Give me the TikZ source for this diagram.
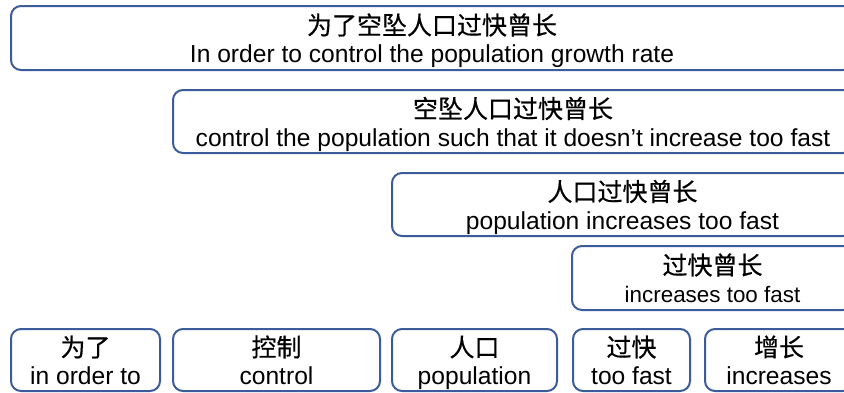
\documentclass[tikz,border=0pt]{standalone}
\usepackage{fontspec}
\setmainfont{Liberation Sans}
\newfontfamily\cjk[FakeBold=0.5]{Noto Sans CJK SC}
\definecolor{bordc}{HTML}{3B5B9B}
\tikzset{
  box/.style={draw=bordc, line width=2pt, rounded corners=10pt, inner sep=0pt},
  zh/.style={anchor=base, inner sep=0pt, text=black, font=\cjk\fontsize{25}{28}\selectfont},
  en/.style={anchor=base, inner sep=0pt, text=black, font=\fontsize{24.6}{28}\selectfont},
  ensmall/.style={en, font=\fontsize{22.4}{26}\selectfont},
}
\begin{document}
\begin{tikzpicture}[x=1pt,y=-1pt]
\useasboundingbox (0,0) rectangle (844,392);
\clip (0,0) rectangle (844,392);
% boxes
\node[box, minimum width=842pt, minimum height=64pt] (b1) at (432,38) {};
\node[box, minimum width=680pt, minimum height=63pt] (b2) at (513,121.5) {};
\node[box, minimum width=461pt, minimum height=63pt] (b3) at (622.5,204.5) {};
\node[box, minimum width=281pt, minimum height=64pt] (b4) at (712.5,278) {};
\node[box, minimum width=149pt, minimum height=62pt] (w1) at (85.5,360) {};
\node[box, minimum width=207pt, minimum height=62pt] (w2) at (276.5,360) {};
\node[box, minimum width=165pt, minimum height=62pt] (w3) at (474.5,360) {};
\node[box, minimum width=117pt, minimum height=62pt] (w4) at (631.5,360) {};
\node[box, minimum width=148pt, minimum height=62pt] (w5) at (779,360) {};
% texts
\node[zh] (b1z) at ([yshift=3.5pt]b1.center) {为了空坠人口过快曾长};
\node[en] (b1e) at ([yshift=-24.5pt]b1.center) {In order to control the population growth rate};
\node[zh] (b2z) at ([yshift=3.5pt]b2.center) {空坠人口过快曾长};
\node[en] (b2e) at ([yshift=-24.5pt]b2.center) {control the population such that it doesn’t increase too fast};
\node[zh] (b3z) at ([yshift=3.5pt]b3.center) {人口过快曾长};
\node[en] (b3e) at ([yshift=-24.5pt]b3.center) {population increases too fast};
\node[zh] (b4z) at ([yshift=3.5pt]b4.center) {过快曾长};
\node[ensmall] (b4e) at ([yshift=-24pt]b4.center) {increases too fast};
\node[zh] (w1z) at ([yshift=3.5pt]w1.center) {为了};
\node[en] (w1e) at ([yshift=-24.5pt]w1.center) {in order to};
\node[zh] (w2z) at ([yshift=3.5pt]w2.center) {控制};
\node[en] (w2e) at ([yshift=-24.5pt]w2.center) {control};
\node[zh] (w3z) at ([yshift=3.5pt]w3.center) {人口};
\node[en] (w3e) at ([yshift=-24.5pt]w3.center) {population};
\node[zh] (w4z) at ([yshift=3.5pt]w4.center) {过快};
\node[en] (w4e) at ([yshift=-24.5pt]w4.center) {too fast};
\node[zh] (w5z) at ([yshift=3.5pt]w5.center) {增长};
\node[en] (w5e) at ([yshift=-24.5pt]w5.center) {increases};
\end{tikzpicture}
\end{document}
